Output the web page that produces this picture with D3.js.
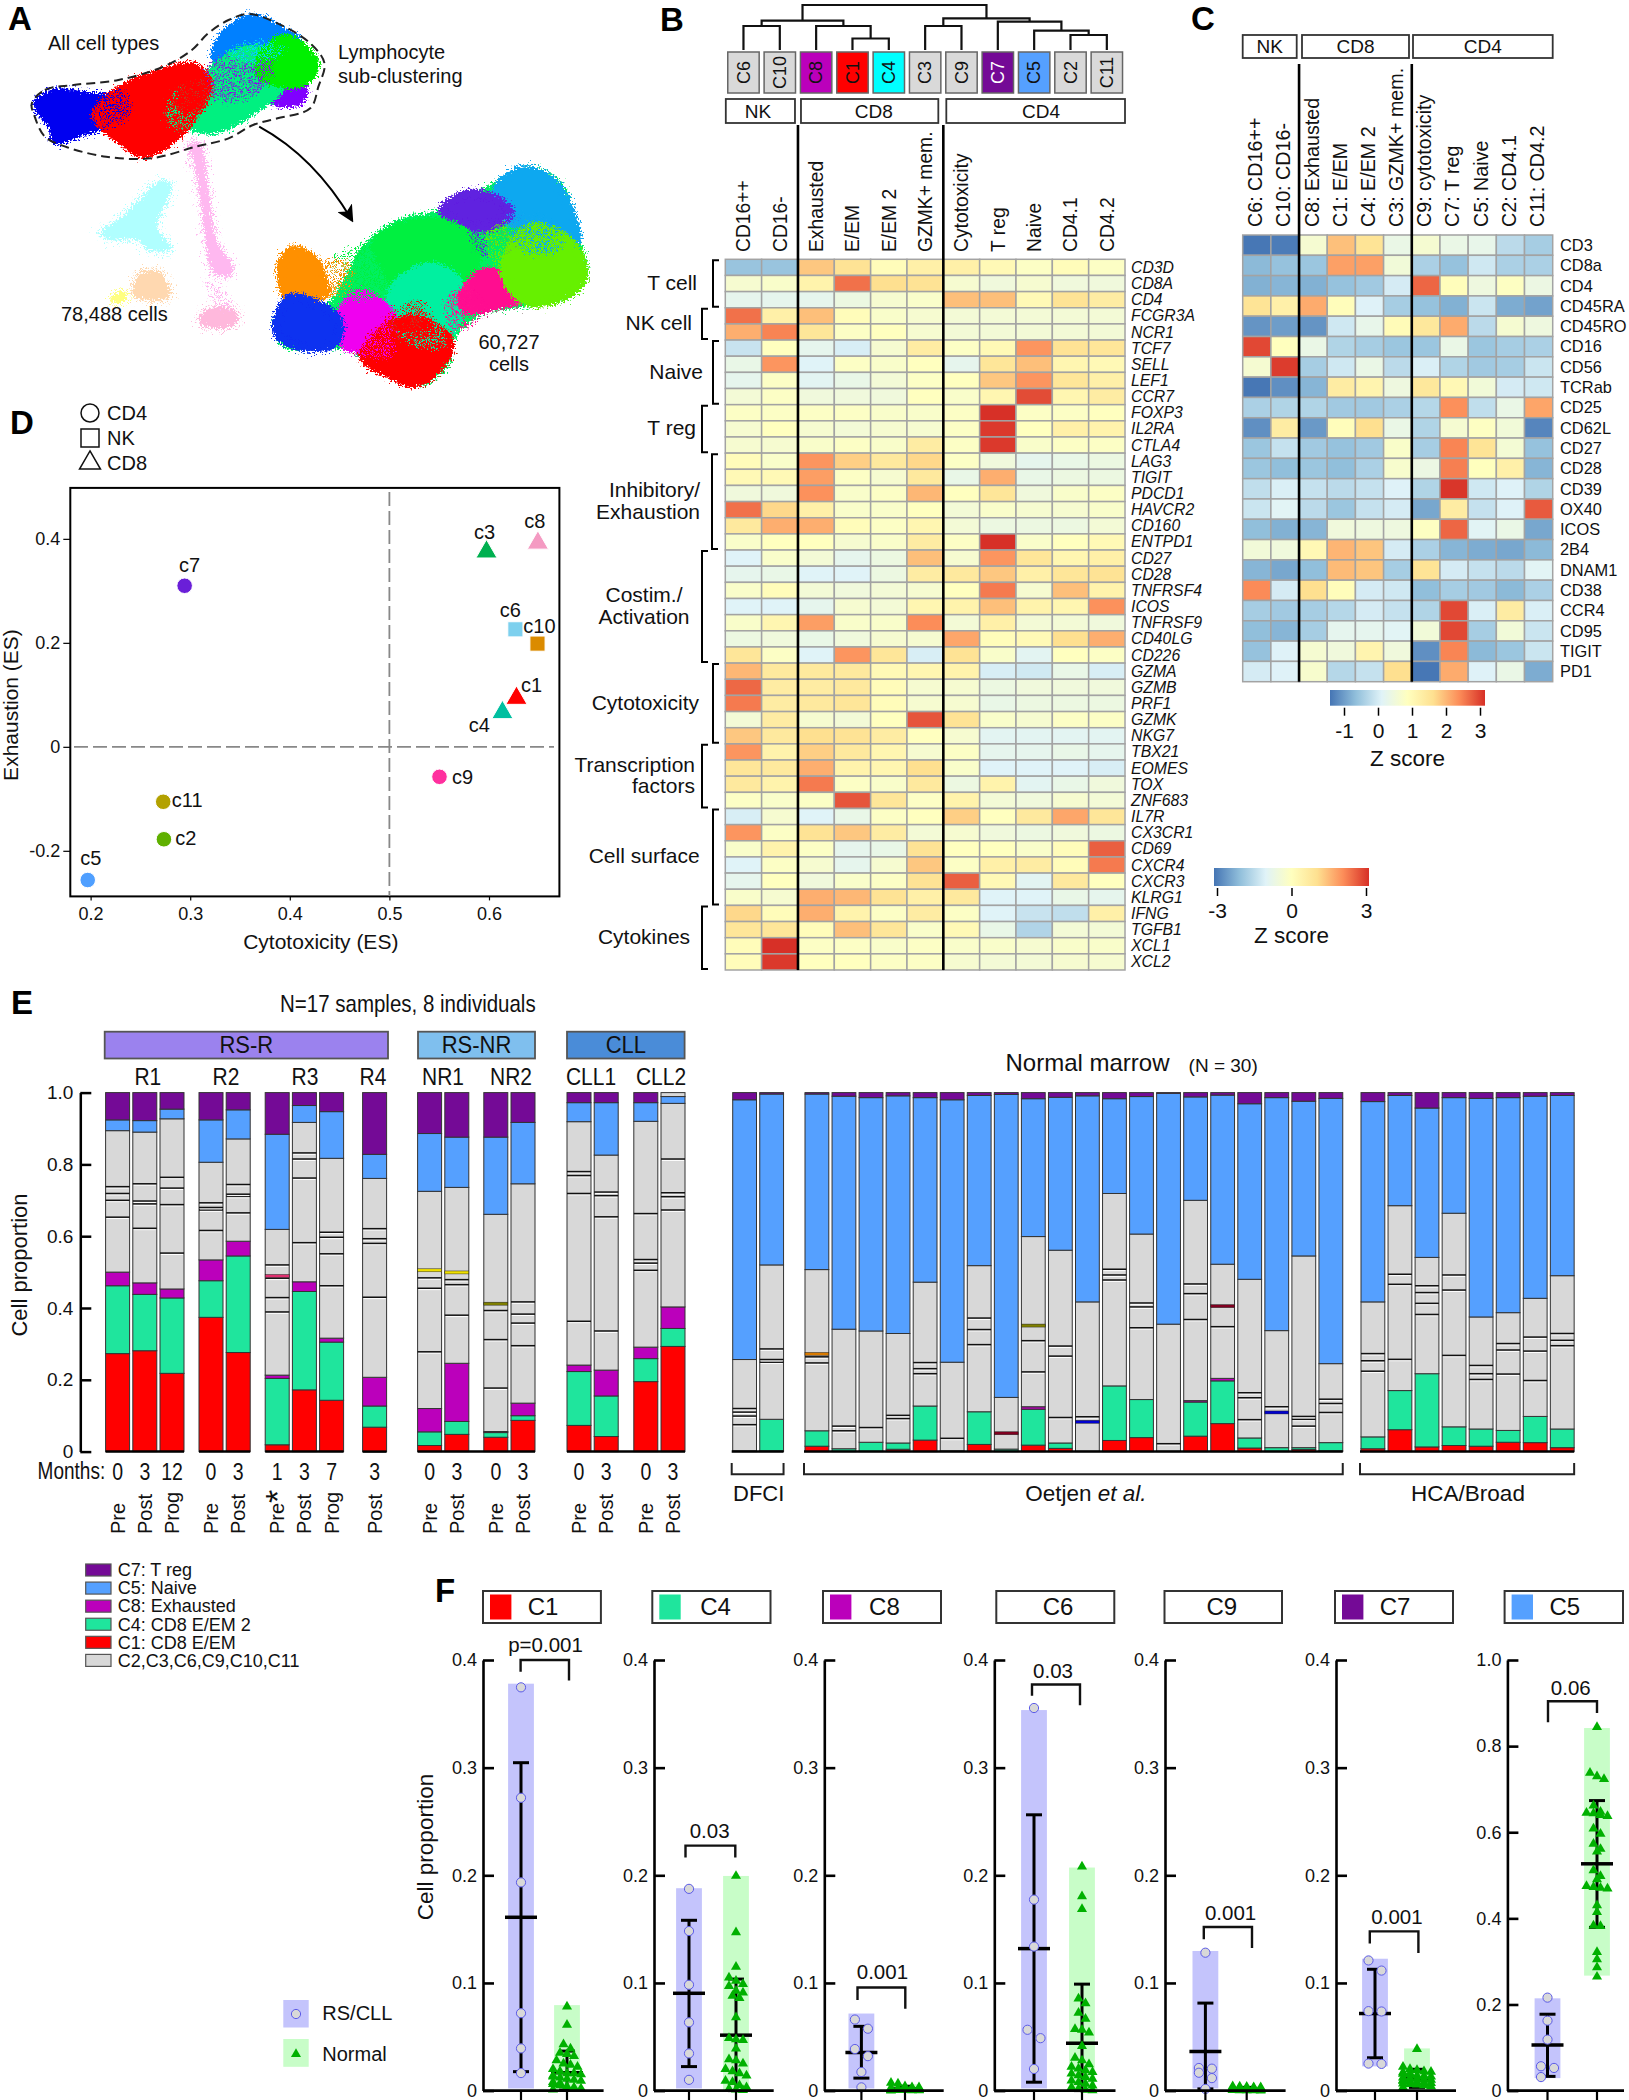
<!DOCTYPE html>
<html>
<head>
<meta charset="utf-8">
<script src="https://cdn.jsdelivr.net/npm/d3@7"></script>
<style>
  body { margin: 0; background: #fff; }
  svg text { font-family: "Liberation Sans", Arial, sans-serif; fill: #111; }
</style>
</head>
<body>
<svg id="fig" width="1629" height="2100" viewBox="0 0 1629 2100"></svg>
<script>
// ---------- panel A: embedding outlines, in embedding units ----------
const umapPale = [
  ['#b0ffff', [[245,700],[300,650],[400,540],[420,560],[385,680],[420,745],[360,750],[340,720],[270,720]]],
  ['#ffb8f0', [[465,430],[490,430],[510,560],[530,720],[570,800],[560,830],[520,810],[500,680],[480,520]]],
  ['#ffb8dc', [[490,945],[530,920],[580,935],[580,970],[530,985],[490,970]]],
  ['#ffd8b0', [[325,880],[345,820],[390,815],[415,870],[410,895],[340,895]]],
  ['#ffff80', [[270,900],[290,875],[315,885],[290,910]]]
];
const umapCores = [
  ['#0000f0', [[93,310],[130,280],[200,285],[290,310],[260,370],[190,400],[135,420],[130,380],[100,335]]],
  ['#0080ff', [[535,130],[590,65],[630,55],[690,95],[730,125],[680,160],[600,190],[530,180]]],
  ['#8000ff', [[640,250],[720,240],[745,270],[735,300],[690,310],[650,290]]],
  ['#00f080', [[460,300],[510,220],[600,150],[680,170],[690,260],[620,330],[560,375],[500,390],[450,360]]],
  ['#00f000', [[640,170],[700,115],[765,170],[772,200],[745,245],[690,250],[640,225]]],
  ['#ff0000', [[235,340],[300,265],[380,225],[475,200],[510,250],[490,320],[430,410],[350,462],[300,425],[258,385]]],
  ['#00f060', [[700,1030],[680,960],[800,930],[900,740],[980,670],[1090,640],[1200,570],[1290,510],[1370,560],[1410,720],[1430,830],[1380,890],[1180,930],[1110,1000],[1090,1090],[1020,1150],[940,1110],[860,1040]]],
  ['#ff9000', [[690,790],[720,750],[770,780],[790,840],[800,880],[750,890],[700,880]]],
  ['#10a8f0', [[1220,560],[1280,510],[1350,540],[1400,640],[1410,730],[1320,680],[1240,660],[1210,600]]],
  ['#6020e0', [[1085,630],[1150,580],[1220,600],[1250,640],[1200,680],[1120,665]]],
  ['#00f040', [[920,730],[980,680],[1090,670],[1170,740],[1140,860],[1070,950],[990,950],[960,840],[930,770]]],
  ['#00f0a0', [[960,870],[1060,800],[1130,860],[1100,1000],[1030,970],[970,950]]],
  ['#ff1090', [[1130,900],[1180,820],[1240,830],[1290,890],[1220,915],[1150,930]]],
  ['#66f000', [[1240,770],[1300,680],[1400,730],[1430,830],[1380,890],[1290,905],[1240,840]]],
  ['#f000f0', [[830,960],[880,880],[950,930],[960,970],[900,1040],[850,1040]]],
  ['#1030f0', [[680,960],[710,895],[790,920],[830,960],[820,1030],[720,1035],[680,1000]]],
  ['#ff0000', [[890,1070],[950,980],[1030,960],[1100,1020],[1090,1080],[1020,1150],[950,1120]]]
];
const umapSpeckles = [
  ['#7a20e0', [[510,200],[600,150],[670,190],[650,260],[560,310],[490,280]]],
  ['#00f080', [[420,280],[490,240],[530,330],[470,390],[410,370]]],
  ['#ff0000', [[440,250],[500,220],[520,300],[450,340]]],
  ['#0000f0', [[230,310],[300,270],[320,340],[250,380]]],
  ['#00d8f0', [[560,160],[640,120],[700,150],[620,190]]],
  ['#6020e0', [[1150,680],[1260,640],[1290,720],[1190,770]]],
  ['#66f000', [[1190,700],[1280,660],[1300,760],[1220,800]]],
  ['#00f040', [[800,800],[900,730],[960,860],[870,900]]],
  ['#ff9000', [[770,790],[860,790],[850,880],[780,880]]],
  ['#00f0a0', [[950,960],[1060,940],[1090,1040],[1000,1030]]],
  ['#ff0000', [[940,960],[1030,900],[1060,980],[980,1000]]],
  ['#ff1090', [[1090,900],[1150,860],[1190,930],[1120,1000]]],
  ['#f000f0', [[860,1000],[960,980],[960,1070],[890,1070]]],
  ['#10a8f0', [[1240,650],[1330,640],[1380,740],[1280,760]]],
  ['#ffb8f0', [[500,840],[540,860],[570,930],[540,930]]]
];
const gateOutline = [[78,310],[110,270],[180,255],[290,240],[400,200],[470,150],[510,100],[560,60],[610,42],[680,70],[760,130],[795,190],[780,260],[760,325],[680,355],[620,375],[560,415],[480,440],[370,475],[260,470],[160,440],[110,410],[85,350]];

// ---------- panel B: gene z scores ----------
const bClusters = ['C6','C10','C8','C1','C4','C3','C9','C7','C5','C2','C11'];
const bColumns = ['CD16++','CD16-','Exhausted','E/EM','E/EM 2','GZMK+ mem.','Cytotoxicity','T reg','Naive','CD4.1','CD4.2'];
const bGenes = ['CD3D','CD8A','CD4','FCGR3A','NCR1','TCF7','SELL','LEF1','CCR7','FOXP3','IL2RA','CTLA4','LAG3','TIGIT','PDCD1','HAVCR2','CD160','ENTPD1','CD27','CD28','TNFRSF4','ICOS','TNFRSF9','CD40LG','CD226','GZMA','GZMB','PRF1','GZMK','NKG7','TBX21','EOMES','TOX','ZNF683','IL7R','CX3CR1','CD69','CXCR4','CXCR3','KLRG1','IFNG','TGFB1','XCL1','XCL2'];
const bValues = [
  [-1.9,-1.9,1.3,.9,.1,.5,.5,.2,-.1,.1,-.1],
  [-.3,-.2,.4,2.3,1,.9,-.3,-.5,-.3,-.5,-.5],
  [-.8,-.8,-.8,-.6,-.3,-.2,1.4,1.4,.2,.9,.6],
  [2.3,.5,1.4,.1,-.2,-.3,-.4,-.4,-.4,-.4,-.4],
  [1.6,2.1,.8,-.1,0,-.3,-.4,-.4,-.4,-.4,-.4],
  [-1.3,0,-.8,-1.1,-.3,.6,-.1,.2,1.9,.9,.8],
  [-.7,1.9,-1,-.1,-.2,0,-.8,.8,1.4,.3,.2],
  [-.8,-.1,-.9,-.7,-.4,-.1,0,1.3,1.9,.8,.5],
  [-.4,-.1,-.5,-.5,-.5,0,-.2,.3,2.7,.3,.6],
  [-.1,-.1,-.1,-.1,-.2,-.2,-.1,3,-.1,-.1,0],
  [-.3,0,-.3,-.4,-.3,-.3,-.1,2.9,0,.5,.4],
  [-.3,-.3,-.2,-.1,-.2,.6,-.1,2.9,-.2,-.1,-.1],
  [.1,-.2,1.9,1.2,.7,1.1,-.1,-.5,-.8,-.7,-.6],
  [.2,.2,1.8,-.1,-.3,.7,-.7,1.6,-.7,-.6,-.6],
  [-.5,-.5,1.95,-.2,-.1,1.5,0,.8,-.5,-.2,-.1],
  [2.3,1.1,.5,-.2,-.2,0,-.4,-.2,-.3,-.3,-.2],
  [.7,1.6,1.6,.1,-.1,.3,-.4,-.6,-.6,-.6,-.4],
  [-.2,0,0,-.3,-.2,.6,-.1,3,-.2,0,.2],
  [-1,-.2,-.4,-.8,-.6,1.4,-.3,1.9,.8,.3,.5],
  [-.8,-.7,-1,-1,-.6,.6,.7,1.3,.5,.8,.9],
  [-.2,.1,-.4,-.5,-.4,-.3,0,2.2,-.3,1.4,.4],
  [-1,-1,-.8,-.3,-.4,.3,.4,1.4,.4,.3,1.95],
  [-.2,.3,1.8,-.2,-.2,2,-.4,.5,-.4,-.4,-.5],
  [-.6,-.5,-.7,-.5,-.3,-.3,1.7,.1,.2,1,1.6],
  [.8,-.1,-1,1.9,.8,-1.1,.9,-.2,-.9,0,-.1],
  [1.5,.7,.7,.7,.2,.3,.4,-1.1,-1.2,-.7,-1.1],
  [2.4,.6,.6,.7,.1,-.3,-.3,-.6,-.5,-.5,-.5],
  [2.2,.6,.7,.8,.1,-.3,-.3,-.7,-.6,-.6,-.6],
  [-.4,.6,-.3,-.4,0,2.6,.9,-.2,-.3,-.1,-.1],
  [1.3,.7,1,.9,.6,0,-.3,-.9,-.9,-.9,-.9],
  [1.9,.4,1.2,.7,.3,-.3,-.1,-.8,-.8,-.7,-.8],
  [.8,.7,1.6,.4,.3,1,-.2,-1,-1,-1,-1.1],
  [.7,.4,2.2,-.1,-.2,.7,-.6,.4,-.9,-.7,-.5],
  [-.1,-.2,-.1,2.6,.8,-.1,.4,-.4,-.5,-.3,-.4],
  [-1.1,-.3,-1,-.7,-.1,0,1.2,0,.7,1.7,.8],
  [1.9,-.1,.9,1.3,.6,-.4,-.3,-.5,-.6,-.5,-.6],
  [-.2,.4,-.1,-.8,-.7,.9,0,0,-.2,.1,2.5],
  [-1,-.1,-.3,-.8,-.3,1.3,-.1,.5,.6,.1,2.2],
  [-.8,0,-.5,-.2,-.1,.9,2.5,.2,-.9,.7,0],
  [-.2,-.3,1.6,1.5,.9,.5,.7,-1,-1,-.7,-.8],
  [1.1,.1,1.6,.4,-.1,.6,-.1,-1,-1.3,-1.4,.5],
  [.8,.8,.1,1.4,.8,-.2,.2,-.7,-1.6,-.4,-.4],
  [.1,3,-.1,-.1,-.2,-.1,-.2,-.2,-.3,-.2,-.2],
  [.1,2.9,0,0,-.1,-.1,-.3,-.4,-.4,-.3,-.3]
];
// [child, child, merge height], ids above 10 are earlier merges
const dendroMerges = [[0,1,24],[3,4,11.5],[2,12,24],[11,13,29.4],[5,6,24],[9,10,15],[8,16,19.4],[7,17,28.4],[15,18,31.7],[14,19,45]];
const bLineages = [['NK',0,2],['CD8',2,4],['CD4',6,5]];
const geneGroups = [['T cell',0,3],['NK cell',3,2],['Naive',5,4],['T reg',9,3],['Inhibitory/\nExhaustion',12,6],['Costim./\nActivation',18,7],['Cytotoxicity',25,5],['Transcription\nfactors',30,4],['Cell surface',34,6],['Cytokines',40,4]];

// ---------- panel C: protein z scores ----------
const cColumns = ['C6: CD16++','C10: CD16-','C8: Exhausted','C1: E/EM','C4: E/EM 2','C3: GZMK+ mem.','C9: cytotoxicity','C7: T reg','C5: Naive','C2: CD4.1','C11: CD4.2'];
const cMarkers = ['CD3','CD8a','CD4','CD45RA','CD45RO','CD16','CD56','TCRab','CD25','CD62L','CD27','CD28','CD39','OX40','ICOS','2B4','DNAM1','CD38','CCR4','CD95','TIGIT','PD1'];
const cValues = [
  [-1.45,-1.4,.6,1.9,1.5,.3,.6,.3,.25,-.3,-.5],
  [-.75,-.65,-.6,2.2,2.2,.5,-.45,-.65,-.1,-.45,-.45],
  [-.85,-.8,-.85,-.65,-.55,-.05,2.7,.9,.4,.8,.35],
  [1.5,1.2,2.1,.9,.05,-.5,-.65,-.85,-.15,-.9,-1],
  [-1.15,-1.05,-1.15,-.1,.25,.95,1.4,2.1,-.3,.6,.4],
  [2.95,.85,.3,-.4,-.5,-.6,-.6,.3,-.6,-.5,-.45],
  [.6,3.05,-.5,-.1,.3,-.3,0,-.4,-.55,-.5,-.15],
  [-1.45,-1.2,-.8,1.3,1.1,.4,1.4,1,.5,-.05,-.1],
  [-.45,-.4,-.4,-.55,-.55,-.45,-.35,2.35,-.25,.3,2.15],
  [-1.2,1.3,-1.1,.9,1.6,.3,-.4,.6,.8,.5,-1.3],
  [-.6,-.2,-.55,-.65,-.55,.7,-.5,2.45,1.5,.55,-.65],
  [-.6,-.7,-.6,-.7,-.45,.65,.35,2.5,.85,1.2,-.8],
  [-.25,0,-.2,-.3,-.2,.05,-.4,3.1,-.1,.05,-.4],
  [-.15,.1,-.3,-.6,-.2,-.05,-.95,1.3,-.2,.05,2.8],
  [-.7,-.85,-.8,.45,.4,.4,.8,2.7,.1,.3,-.95],
  [.5,.45,1,2,1.85,-.05,-.45,-.8,-.9,-.95,-.75],
  [-.8,-.95,-.7,1.95,1.85,-.5,1.5,-.05,-.2,-.3,.1],
  [2.4,-.05,1.6,.9,-.05,-.1,-.7,-.5,-.55,-.75,-.45],
  [-.5,-.55,-.5,-.35,-.05,-.2,-.4,2.95,0,1.3,0],
  [-.7,-.8,-.5,.2,.2,.1,.5,2.95,-.5,.5,-.15],
  [-.65,.05,.6,.45,1.1,.45,-1.2,2.45,-.75,-.6,-.15],
  [-.05,.05,.65,-.35,-.2,1.6,-1.45,2.1,.05,.3,-.9]
];

// ---------- panel D: enrichment scores ----------
const dNames = ['c7','c3','c8','c6','c10','c1','c4','c9','c11','c2','c5'];
const dCytotoxicity = [.2944,.5975,.6491,.6265,.6487,.6276,.6135,.5503,.2729,.2736,.1971];
const dExhaustion = [.3098,.375,.392,.226,.1985,.0935,.066,-.0577,-.1057,-.1778,-.2562];
const dLineage = ['CD4','CD8','CD8','NK','NK','CD8','CD8','CD4','CD4','CD4','CD4'];
const dColors = ['#6a1fd8','#00b050','#f49ac2','#7dd0ee','#db8b00','#ff0000','#00bfa0','#ff2f9e','#b3a100','#5fb000','#4f9fff'];

// ---------- panel E: cumulative tops of each stack ----------
const rsIndividuals = ['R1','R2','R3','R4','NR1','NR2','CLL1','CLL2'];
const rsSizes = [3,2,3,1,2,2,2,2];
const rsMonths = ['0','3','12','0','3','1','3','7','3','0','3','0','3','0','3','0','3'];
const rsStatus = ['Pre','Post','Prog','Pre','Post','Pre*','Post','Prog','Post','Pre','Post','Pre','Post','Pre','Post','Pre','Post'];
const rsC1 = [.273,.281,.218,.374,.276,.019,.172,.143,.068,.017,.048,.04,.087,.073,.042,.195,.293];
const rsC4 = [.462,.438,.428,.476,.545,.204,.446,.305,.127,.055,.084,.053,.1,.223,.155,.259,.343];
const rsC8 = [.5,.47,.453,.534,.586,.213,.473,.316,.207,.12,.246,.056,.135,.241,.227,.291,.403];
const rsGray = [.894,.89,.927,.806,.871,.619,.917,.817,.761,.725,.736,.661,.746,.919,.826,.92,.97];
const rsC5 = [.924,.922,.954,.924,.952,.884,.964,.947,.828,.886,.876,.876,.917,.972,.972,.972,.989];
const rsLines = [
  [.653,.7,.719,.738],[.622,.69,.698,.746],[.553,.688,.734,.764],[.616,.673,.68,.693],[.665,.711,.717,.744],
  [.389,.429,.483,.52],[.582,.762,.815,.832],[.462,.551,.597,.611],[.43,.58,.593,.621],[.278,.455,.484,.505],
  [.38,.465,.479,.499],[.177,.312,.393,.412],[.295,.358,.383,.417],[.363,.719,.769,.78],[.336,.654,.713,.723],
  [.505,.525,.535,.663],[.673,.71,.721,.815]
];
const rsThin = [[5,.489,'#e03070'],[9,.505,'#f0e000'],[10,.499,'#f0e000'],[11,.412,'#808000']];

const nmC1 = [.002,.002,.015,.001,.001,.0065,.032,.002,.02,.001,.018,.009,.001,.031,.039,.001,.043,.078,.01,.001,.006,.002,.008,.061,.013,.017,.015,.026,.025,.011];
const nmC4 = [.002,.09,.058,.008,.026,.024,.127,.002,.111,.007,.118,.024,.001,.183,.145,.001,.138,.197,.038,.011,.011,.025,.041,.17,.217,.069,.063,.059,.098,.063];
const nmC8 = [.002,.09,.058,.008,.026,.024,.127,.002,.111,.007,.125,.024,.001,.183,.145,.001,.142,.204,.038,.011,.011,.025,.041,.17,.217,.069,.063,.059,.098,.063];
const nmGray = [.2565,.52,.507,.341,.336,.329,.472,.249,.518,.151,.599,.561,.417,.719,.606,.355,.7,.522,.48,.337,.545,.245,.417,.685,.541,.664,.375,.387,.427,.49];
const nmC5 = [.98,.996,.996,.99,.986,.991,.986,.98,.992,.995,.983,.987,.991,.983,.989,.998,.988,.993,.969,.986,.976,.984,.975,.992,.957,.986,.984,.986,.99,.992];
const nmLines = [
  [.075,.099,.11,.12],[.249,.2565,.286],[.247,.264,.272],[.058,.071],[.067],[.092,.101],[.217,.231,.248],[.037],
  [.298,.34,.372],[.051],[.222,.309,.351],[.095,.266,.294],[.083,.097],[.478,.492,.508],[.345,.403,.414],[.022],
  [.368,.44,.467],[.348,.405],[.089,.15,.164],[.109,.125],[.071,.09,.098],[.109,.134,.146],[.224,.253,.273],
  [.257,.466,.494],[.382,.413,.443,.462],[.268,.45,.492],[.201,.217,.24],[.216,.283,.301],[.198,.28,.319],[.295,.31,.329]
];
const nmThin = [[2,.272,'#d97a00'],[9,.051,'#800020'],[10,.351,'#808000'],[12,.083,'#0000d0'],[17,.405,'#800020'],[19,.109,'#0000d0']];
const cohorts = [['DFCI',2],['Oetjen',20],['HCA/Broad',8]];
const stackColors = ['#ff0000','#1fe59d','#bb00bb','#d8d8d8','#55a0ff','#740a96'];
const stackLegend = [['C7: T reg','#740a96'],['C5: Naive','#55a0ff'],['C8: Exhausted','#bb00bb'],['C4: CD8 E/EM 2','#1fe59d'],['C1: CD8 E/EM','#ff0000'],['C2,C3,C6,C9,C10,C11','#d8d8d8']];

// ---------- panel F: per-cluster proportions, RS/CLL then normal ----------
const fC1Rs = [.3746,.272,.1934,.0719,.0392,.0163];
const fC1Nm = [.078,.061,.043,.039,.035,.034,.032,.028,.025,.024,.022,.02,.018,.016,.016,.015,.014,.013,.012,.011,.01,.009,.008,.007,.006,.005,.004,.003,.002,.001];
const fC4Rs = [.1874,.1482,.0983,.0634,.0345,.01];
const fC4Nm = [.1994,.147,.115,.105,.102,.099,.097,.0926,.091,.088,.086,.068,.0487,.0477,.047,.039,.029,.028,.025,.02,.018,.016,.014,.009,.008,.005,.003,.0016,.001,.0005];
const fC8Rs = [.066,.0575,.0386,.032,.0173,.003];
const fC8Nm = [.0072,.0066,.004,.003,.003,.0025,.002,.002,.002,.002,.0015,.0015,.0015,.0015,.001,.001,.001,.001,.001,.001,.001,.0008,.0008,.0006,.0006,.0005,.0004,.0003,.0002,.0001];
const fC6Rs = [.3554,.1774,.1338,.0565,.0487,.0201];
const fC6Nm = [.208,.1805,.1686,.0854,.081,.0722,.0666,.0571,.0565,.054,.0414,.0305,.028,.0245,.022,.0204,.0188,.0173,.0157,.0141,.0126,.011,.0094,.0078,.0063,.0047,.0031,.0016,.0006,.0003];
const fC9Rs = [.1281,.021,.0204,.0166,.0116,.0016];
const fC9Nm = [.004,.0038,.0035,.003,.003,.0028,.0026,.0025,.0023,.002,.002,.002,.0018,.0016,.0015,.0014,.0012,.001,.001,.0009,.0008,.0007,.0006,.0005,.0005,.0004,.0003,.0002,.0002,.0001];
const fC7Rs = [.1209,.1115,.0738,.0735,.0251,.0248];
const fC7Nm = [.0385,.022,.02,.019,.018,.0175,.017,.016,.0155,.015,.014,.0135,.013,.012,.0115,.011,.0105,.01,.0095,.009,.0085,.008,.0075,.007,.0065,.006,.0055,.005,.004,.003];
const fC5Rs = [.2159,.1625,.1185,.0565,.0526,.0314];
const fC5Nm = [.844,.738,.73,.7237,.6617,.6476,.645,.6437,.64,.6374,.6083,.5965,.573,.5612,.555,.5118,.4984,.4906,.4749,.4725,.471,.4694,.4301,.4144,.383,.3822,.3218,.3046,.2865,.2645];
const fNames = ['C1','C4','C8','C6','C9','C7','C5'];
const fSwatches = ['#ff0000','#1fe59d','#bb00bb',null,null,'#740a96','#55a0ff'];
const fRs = [fC1Rs,fC4Rs,fC8Rs,fC6Rs,fC9Rs,fC7Rs,fC5Rs];
const fNm = [fC1Nm,fC4Nm,fC8Nm,fC6Nm,fC9Nm,fC7Nm,fC5Nm];
// [mean, upper, lower, band low, band high]
const fRsStats = [[.161,.3046,.0176,.002,.378],[.0904,.1582,.0223,.002,.188],[.0355,.0597,.0116,.002,.0716],[.1319,.2562,.0078,.002,.3535],[.0364,.0813,.0016,.002,.1297],[.0716,.1127,.0305,.0225,.1225],[.106,.1774,.033,.029,.2143]];
const fNmStats = [[.0166,.0367,.0005,0,.0794],[.0515,.1036,0,0,.1994],[.0015,.004,0,0,.006],[.044,.0989,0,0,.2072],[.001,.003,0,0,.004],[.0113,.0198,.003,.001,.0392],[.5267,.6735,.3791,.267,.842]];
const fPvalues = ['p=0.001','0.03','0.001','0.03','0.001','0.001','0.06'];
// [top, left drop, right drop] of each significance bracket
const fBrackets = [[.4,.389,.381],[.2276,.2166,.2166],[.0958,.0841,.076],[.3773,.3667,.358],[.152,.1407,.1325],[.1479,.1366,.1278],[.9042,.8556,.8768]];

// ---------- helpers ----------
const svg = d3.select('#fig');
const defs = svg.append('defs');

function put(parent, x, y, str, o = {}) {
  const n = parent.append('text')
    .attr('font-size', o.fs || 18)
    .attr('text-anchor', o.anchor || 'middle')
    .attr('dy', '.35em')
    .text(str);
  if (o.rot || o.sy) n.attr('transform', `translate(${x},${y}) scale(1,${o.sy || 1}) rotate(${o.rot || 0})`);
  else n.attr('x', x).attr('y', y);
  if (o.italic) n.attr('font-style', 'italic');
  if (o.weight) n.attr('font-weight', o.weight);
  if (o.fill) n.style('fill', o.fill);
  return n;
}

function styleAxis(g, width, fs) {
  g.selectAll('path,line').attr('stroke', '#000').attr('stroke-width', width);
  g.selectAll('text').attr('font-size', fs).style('fill', '#111');
  return g;
}

const tickText = d => d === 0 ? '0' : d.toFixed(1);

// panel letters
[['A',8,30],['B',660,31],['C',1191,30],['D',10,434],['E',11,1014],['F',435,1602]].forEach(([s, x, y]) => {
  svg.append('text').attr('x', x).attr('y', y).attr('font-size', 33).attr('font-weight', 'bold').style('fill', '#000').text(s);
});

// ---------- A ----------
function grainFilter(id, scale, holes) {
  const f = defs.append('filter').attr('id', id).attr('x', '-30%').attr('y', '-30%').attr('width', '160%').attr('height', '160%');
  f.append('feTurbulence').attr('type', 'fractalNoise').attr('baseFrequency', 0.55).attr('numOctaves', 2).attr('seed', 3).attr('result', 'noise');
  let src = 'SourceGraphic';
  if (holes) {
    f.append('feColorMatrix').attr('in', 'noise').attr('type', 'matrix')
      .attr('values', '0 0 0 0 0  0 0 0 0 0  0 0 0 0 0  0 0 0 14 -7.4').attr('result', 'mask');
    f.append('feComposite').attr('in', 'SourceGraphic').attr('in2', 'mask').attr('operator', 'in').attr('result', 'cut');
    src = 'cut';
  }
  f.append('feDisplacementMap').attr('in', src).attr('in2', 'noise').attr('scale', scale)
    .attr('xChannelSelector', 'R').attr('yChannelSelector', 'G');
}
grainFilter('grain', 12, false);
grainFilter('haze', 24, true);
grainFilter('mix', 16, true);

const xUmap = d3.scaleLinear().domain([0, 1568]).range([0, 640]);
const yUmap = d3.scaleLinear().domain([0, 1260]).range([0, 420]);
const blobPath = d3.line().x(d => xUmap(d[0])).y(d => yUmap(d[1])).curve(d3.curveCatmullRomClosed.alpha(.5));
const gA = svg.append('g');
gA.selectAll('path.halo').data([...umapPale, ...umapCores]).join('path').attr('class', 'halo')
  .attr('d', d => blobPath(d[1])).attr('fill', d => d[0]).attr('stroke', d => d[0]).attr('stroke-width', 7).attr('filter', 'url(#haze)');
gA.selectAll('path.pale').data(umapPale).join('path').attr('class', 'pale')
  .attr('d', d => blobPath(d[1])).attr('fill', d => d[0]).attr('filter', 'url(#grain)');
gA.selectAll('path.core').data(umapCores).join('path').attr('class', 'core')
  .attr('d', d => blobPath(d[1])).attr('fill', d => d[0]).attr('stroke', d => d[0]).attr('stroke-width', 9).attr('filter', 'url(#grain)');
gA.selectAll('path.mix').data(umapSpeckles).join('path').attr('class', 'mix')
  .attr('d', d => blobPath(d[1])).attr('fill', d => d[0]).attr('filter', 'url(#mix)');
gA.append('path').attr('d', blobPath(gateOutline)).attr('fill', 'none').attr('stroke', '#222').attr('stroke-width', 2).attr('stroke-dasharray', '9 5');

defs.append('marker').attr('id', 'arrow').attr('viewBox', '0 0 12 12').attr('refX', 10).attr('refY', 6)
  .attr('markerWidth', 17).attr('markerHeight', 17).attr('markerUnits', 'userSpaceOnUse').attr('orient', 'auto')
  .append('path').attr('d', 'M0,0 L12,6 L0,12 L3,6 Z').attr('fill', '#000');
gA.append('path')
  .attr('d', `M${xUmap(635)},${yUmap(380)} Q${xUmap(770)},${yUmap(470)} ${xUmap(862)},${yUmap(660)}`)
  .attr('fill', 'none').attr('stroke', '#000').attr('stroke-width', 2).attr('marker-end', 'url(#arrow)');

put(gA, 48, 43, 'All cell types', { fs: 20, anchor: 'start' });
put(gA, 338, 52, 'Lymphocyte', { fs: 20, anchor: 'start' });
put(gA, 338, 76, 'sub-clustering', { fs: 20, anchor: 'start' });
put(gA, 61, 314, '78,488 cells', { fs: 20, anchor: 'start' });
put(gA, 509, 342, '60,727', { fs: 20 });
put(gA, 509, 364, 'cells', { fs: 20 });

// ---------- heatmap palette ----------
const rdYlBu = ['#4575b4','#91bfdb','#e0f3f8','#ffffbf','#fee090','#fc8d59','#d73027'];
const colorB = d3.scaleLinear().domain([-3,-2,-1,0,1,2,3]).range(rdYlBu).clamp(true);
const colorC = d3.scaleLinear().domain([-1.47,-.7,.06,.84,1.6,2.38,3.15]).range(rdYlBu).clamp(true);

function heatmap(g, rows, x, y, color) {
  g.selectAll('g.hrow').data(rows).join('g').attr('class', 'hrow')
    .attr('transform', (d, i) => `translate(0,${y(i)})`)
    .selectAll('rect').data(d => d).join('rect')
    .attr('x', (d, j) => x(j)).attr('width', x.bandwidth()).attr('height', y.bandwidth())
    .attr('fill', d => color(d)).attr('stroke', '#a3a3a3').attr('stroke-width', 1.5);
}

function colorbar(id, color, stops, x0, x1, y0, h, tickScale, ticks, title, titleY) {
  const grad = defs.append('linearGradient').attr('id', id);
  stops.forEach((s, i) => grad.append('stop').attr('offset', i / (stops.length - 1)).attr('stop-color', color(s)));
  svg.append('rect').attr('x', x0).attr('y', y0).attr('width', x1 - x0).attr('height', h).attr('fill', `url(#${id})`);
  const ax = svg.append('g').attr('transform', `translate(0,${y0 + h + 2})`)
    .call(d3.axisBottom(tickScale).tickValues(ticks).tickSize(8).tickPadding(7).tickFormat(String));
  ax.select('.domain').remove();
  styleAxis(ax, 1.5, 21);
  put(svg, (x0 + x1) / 2, titleY, title, { fs: 22.5 });
}

// ---------- B ----------
const gB = svg.append('g');
const xB = d3.scaleBand().domain(d3.range(bColumns.length)).range([725.3, 1125]);
const yB = d3.scaleBand().domain(d3.range(bGenes.length)).range([259.3, 970]);
heatmap(gB, bValues, xB, yB, colorB);

const leafX = i => xB(i) + xB.bandwidth() / 2;
const yTree = d3.scaleLinear().domain([0, 45]).range([50, 5]);
const nodes = bClusters.map((c, i) => ({ x: leafX(i), h: 0 }));
dendroMerges.forEach(([a, b, h]) => {
  const l = nodes[a], r = nodes[b];
  gB.append('path').attr('d', `M${l.x},${yTree(l.h)} V${yTree(h)} H${r.x} V${yTree(r.h)}`)
    .attr('fill', 'none').attr('stroke', '#111').attr('stroke-width', 2.2);
  nodes.push({ x: (l.x + r.x) / 2, h });
});

const boxFill = { C8: '#bb00bb', C1: '#ff0000', C4: '#00ffff', C7: '#740a96', C5: '#55a0ff' };
const boxes = gB.selectAll('g.clu').data(bClusters).join('g').attr('class', 'clu');
boxes.append('rect').attr('x', (d, i) => leafX(i) - 15.7).attr('y', 52).attr('width', 31.4).attr('height', 41)
  .attr('fill', d => boxFill[d] || '#d9d9d9').attr('stroke', '#666').attr('stroke-width', 1.5);
boxes.each(function (d, i) {
  put(d3.select(this), leafX(i), 72.5, d, { fs: 18, rot: -90, fill: d === 'C7' ? '#fff' : '#111' });
});

function lineageBox(g, x0, x1, y0, y1, name, fs, labelX) {
  g.append('rect').attr('x', x0).attr('y', y0).attr('width', x1 - x0).attr('height', y1 - y0)
    .attr('fill', '#fff').attr('stroke', '#333').attr('stroke-width', 1.8);
  put(g, labelX || (x0 + x1) / 2, (y0 + y1) / 2, name, { fs });
}
const bLineageLabelX = [758, 873.8, 1041];
bLineages.forEach(([name, start, n], i) => {
  const x0 = xB(start) + (name === 'NK' ? .5 : 3);
  const x1 = xB(start) + n * xB.bandwidth() - (name === 'CD8' ? 5 : (name === 'NK' ? 3 : 0));
  lineageBox(gB, x0, x1, 99, 123, name, 19, bLineageLabelX[i]);
});

bColumns.forEach((c, i) => put(gB, leafX(i), 252, c, { fs: 19.3, rot: -90, anchor: 'start' }));
bGenes.forEach((c, i) => put(gB, 1131, yB(i) + yB.bandwidth() / 2, c, { fs: 15.8, anchor: 'start', italic: true }));
[2, 6].forEach(i => gB.append('line').attr('x1', xB(i)).attr('x2', xB(i)).attr('y1', 125).attr('y2', 970).attr('stroke', '#000').attr('stroke-width', 2.6));

// bracket x stays in this layout list, one entry per gene group
const bracketX = [713,702,713,702,712,702,713,702,713,702];
const labelRight = [697,692,703,696,700,null,699,695,699.6,null];
geneGroups.forEach(([name, start, n], i) => {
  const x = bracketX[i], y0 = yB(start) + 1, y1 = yB(start) + n * yB.bandwidth() - 1;
  gB.append('path').attr('d', `M${x + 6},${y0} H${x} V${y1} H${x + 6}`).attr('fill', 'none').attr('stroke', '#000').attr('stroke-width', 2);
  const lines = name.split('\n');
  const yc = (y0 + y1) / 2;
  lines.forEach((s, k) => {
    const dy = (k - (lines.length - 1) / 2) * 21.5 - 1;
    if (labelRight[i]) put(gB, labelRight[i], yc + dy, s, { fs: 21, anchor: 'end' });
    else put(gB, 644, yc + dy, s, { fs: 21 });
  });
});

const zTicksB = d3.scaleLinear().domain([-3, 3]).range([1217, 1366]);
colorbar('barB', colorB, [-3,-2,-1,0,1,2,3], 1214, 1369, 868, 18, zTicksB, [-3,0,3], 'Z score', 935);

// ---------- C ----------
const gC = svg.append('g');
const xC = d3.scaleBand().domain(d3.range(cColumns.length)).range([1242.7, 1552.7]);
const yC = d3.scaleBand().domain(d3.range(cMarkers.length)).range([235, 681.7]);
heatmap(gC, cValues, xC, yC, colorC);
cColumns.forEach((c, i) => put(gC, xC(i) + xC.bandwidth() / 2 - 1.5, 227, c, { fs: 19.7, rot: -90, anchor: 'start' }));
cMarkers.forEach((c, i) => put(gC, 1560, yC(i) + yC.bandwidth() / 2, c, { fs: 16.4, anchor: 'start' }));
lineageBox(gC, 1242.7, 1296.7, 35, 58, 'NK', 19);
lineageBox(gC, 1302, 1409, 35, 58, 'CD8', 19);
lineageBox(gC, 1413, 1552.7, 35, 58, 'CD4', 19);
[2, 6].forEach(i => gC.append('line').attr('x1', xC(i)).attr('x2', xC(i)).attr('y1', 64).attr('y2', 681.7).attr('stroke', '#000').attr('stroke-width', 2.6));
const zTicksC = d3.scaleLinear().domain([-1, 3]).range([1344, 1480]);
colorbar('barC', colorC, [-1.47,-.7,.06,.84,1.6,2.38,3.15], 1330, 1485, 690, 15.7, zTicksC, [-1,0,1,2,3], 'Z score', 758);

// ---------- D ----------
const gD = svg.append('g');
const xD = d3.scaleLinear().domain([.1796, .6707]).range([70.3, 559.4]);
const yD = d3.scaleLinear().domain([-.2877, .498]).range([896.4, 487.9]);
gD.append('rect').attr('x', 70.3).attr('y', 487.9).attr('width', 489.1).attr('height', 408.5).attr('fill', 'none').attr('stroke', '#000').attr('stroke-width', 2);
gD.append('line').attr('x1', xD(.5)).attr('x2', xD(.5)).attr('y1', 492).attr('y2', 896).attr('stroke', '#888').attr('stroke-width', 1.8).attr('stroke-dasharray', '14 5');
gD.append('line').attr('x1', 74).attr('x2', 554).attr('y1', yD(0)).attr('y2', yD(0)).attr('stroke', '#888').attr('stroke-width', 1.8).attr('stroke-dasharray', '14 5');
const dx = gD.append('g').attr('transform', 'translate(0,896.4)').call(d3.axisBottom(xD).tickValues([.2,.3,.4,.5,.6]).tickSize(4).tickPadding(7).tickFormat(d3.format('.1f')));
dx.select('.domain').remove();
styleAxis(dx, 1.2, 18);
const dy = gD.append('g').attr('transform', 'translate(70.3,0)').call(d3.axisLeft(yD).tickValues([-.2,0,.2,.4]).tickSize(7).tickPadding(3).tickFormat(tickText));
dy.select('.domain').remove();
styleAxis(dy, 1.2, 18);

const symbolFor = { CD4: d3.symbol().type(d3.symbolCircle).size(190), NK: d3.symbol().type(d3.symbolSquare).size(230), CD8: d3.symbol().type(d3.symbolTriangle).size(195) };
gD.selectAll('path.pt').data(dNames).join('path').attr('class', 'pt')
  .attr('transform', (d, i) => `translate(${xD(dCytotoxicity[i])},${yD(dExhaustion[i])})`)
  .attr('d', (d, i) => symbolFor[dLineage[i]]())
  .attr('fill', (d, i) => dColors[i]).attr('stroke', '#fff').attr('stroke-width', 1);
// label offsets from each point, same order as dNames
const dLabelDx = [5,-2,-3,-5,2,15,-23,23,24,22,3];
const dLabelDy = [-21,-20,-22,-19,-18,-13,12,0,-2,-1,-22];
dNames.forEach((n, i) => put(gD, xD(dCytotoxicity[i]) + dLabelDx[i], yD(dExhaustion[i]) + dLabelDy[i], n, { fs: 20 }));
put(gD, 320.8, 942, 'Cytotoxicity (ES)', { fs: 21 });
put(gD, 11, 705, 'Exhaustion (ES)', { fs: 21, rot: -90 });
const dLegend = [['CD4', d3.symbolCircle, 254, 413], ['NK', d3.symbolSquare, 324, 438], ['CD8', d3.symbolTriangle, 190, 463]];
dLegend.forEach(([name, sym, size, y]) => {
  gD.append('path').attr('transform', `translate(90,${y})`).attr('d', d3.symbol().type(sym).size(size)()).attr('fill', 'none').attr('stroke', '#111').attr('stroke-width', 1.5);
  put(gD, 107, y, name, { fs: 20, anchor: 'start' });
});

// ---------- E ----------
const gE = svg.append('g');
const yE = d3.scaleLinear().domain([0, 1]).range([1451.6, 1092.6]);

function drawStack(g, x, w, tops, lines, thin, topColor) {
  const lows = [0, ...tops.slice(0, -1)];
  tops.forEach((t, k) => {
    if (t - lows[k] <= 0) return;
    g.append('rect').attr('x', x).attr('width', w).attr('y', yE(t)).attr('height', yE(lows[k]) - yE(t))
      .attr('fill', k === 5 && topColor ? topColor : stackColors[k]).attr('stroke', '#333').attr('stroke-width', 1);
  });
  lines.forEach(v => {
    g.append('line').attr('x1', x + 1).attr('x2', x + w - 1).attr('y1', yE(v) + 1.4).attr('y2', yE(v) + 1.4).attr('stroke', '#fff').attr('stroke-width', 1);
    g.append('line').attr('x1', x).attr('x2', x + w).attr('y1', yE(v)).attr('y2', yE(v)).attr('stroke', '#111').attr('stroke-width', 1.5);
  });
  thin.forEach(([, v, c]) => {
    g.append('rect').attr('x', x).attr('width', w).attr('y', yE(v) - 1.5).attr('height', 3).attr('fill', c).attr('stroke', '#222').attr('stroke-width', .5);
  });
}

// left block: gaps between individuals, then bars
const rsGaps = [0,39,39,43,55,39,56,39.6];
const rsPitch = 27.2, rsWidth = 24;
const rsX = [];
let cursor = 105.6;
rsSizes.forEach((n, g) => {
  if (g > 0) cursor += rsGaps[g] - rsPitch;
  d3.range(n).forEach(() => { rsX.push(cursor); cursor += rsPitch; });
});
rsX.forEach((x, i) => {
  const tops = [rsC1[i], rsC4[i], rsC8[i], rsGray[i], rsC5[i], 1];
  drawStack(gE, x, rsWidth, tops, rsLines[i], rsThin.filter(t => t[0] === i), i === 16 ? '#d8d8d8' : null);
  put(gE, x + rsWidth / 2, 1471, rsMonths[i], { fs: 19.5, sy: 1.25 });
  const st = rsStatus[i];
  const lab = put(gE, x + rsWidth / 2, 1534, st.replace('*', ''), { fs: 20, rot: -90, anchor: 'start' });
  if (st.endsWith('*')) lab.append('tspan').attr('font-size', 34).attr('dy', 5).text('*');
});
const ya = gE.append('g').attr('transform', 'translate(80.3,0)').call(d3.axisLeft(yE).tickValues([0,.2,.4,.6,.8,1]).tickSize(-11).tickSizeOuter(0).tickPadding(7).tickFormat(tickText));
styleAxis(ya, 2.5, 19);
// thick baselines under each joined run of bars
[[0,2],[3,4],[5,7],[8,8],[9,12],[13,16]].forEach(([a, b]) => {
  gE.append('line').attr('x1', rsX[a]).attr('x2', rsX[b] + rsWidth).attr('y1', yE(0)).attr('y2', yE(0)).attr('stroke', '#000').attr('stroke-width', 2.5);
});
const rsLabelX = [147.8,226,305,373,443,511,591,661];
rsIndividuals.forEach((name, g) => put(gE, rsLabelX[g], 1076, name, { fs: 21, sy: 1.18 }));
[['RS-R',104.7,388,'#9b82ee'],['RS-NR',418,535,'#7fbfee'],['CLL',567,684.6,'#4a8cd8']].forEach(([name, x0, x1, fill]) => {
  gE.append('rect').attr('x', x0).attr('y', 1031.7).attr('width', x1 - x0).attr('height', 26.8).attr('fill', fill).attr('stroke', '#555').attr('stroke-width', 1.8);
  put(gE, (x0 + x1) / 2, 1045, name, { fs: 22, sy: 1.1 });
});
put(gE, 280, 1004, 'N=17 samples, 8 individuals', { fs: 20.5, anchor: 'start', sy: 1.15 });
put(gE, 37.6, 1471, 'Months:', { fs: 19, anchor: 'start', sy: 1.25 });
put(gE, 19, 1265, 'Cell proportion', { fs: 22, rot: -90 });

// right block: normal marrow
const nmStarts = [732.7, 805, 1361];
const nmPitch = 27.05, nmWidth = 23.8;
let nmIndex = 0;
cohorts.forEach(([name, n], c) => {
  d3.range(n).forEach(k => {
    const i = nmIndex + k;
    const x = nmStarts[c] + k * nmPitch;
    drawStack(gE, x, nmWidth, [nmC1[i], nmC4[i], nmC8[i], nmGray[i], nmC5[i], 1], nmLines[i], nmThin.filter(t => t[0] === i));
  });
  const x0 = nmStarts[c] - 1, x1 = nmStarts[c] + (n - 1) * nmPitch + nmWidth;
  gE.append('line').attr('x1', x0).attr('x2', x1).attr('y1', yE(0)).attr('y2', yE(0)).attr('stroke', '#000').attr('stroke-width', 2.5);
  gE.append('path').attr('d', `M${x0},1463 V1474.3 H${x1} V1463`).attr('fill', 'none').attr('stroke', '#222').attr('stroke-width', 2);
  nmIndex += n;
});
put(gE, 758.7, 1493, 'DFCI', { fs: 22 });
const oet = put(gE, 1085.8, 1493, 'Oetjen ', { fs: 22.5 });
oet.append('tspan').attr('font-style', 'italic').text('et al.');
put(gE, 1468, 1493, 'HCA/Broad', { fs: 22.5 });
put(gE, 1005.5, 1063, 'Normal marrow', { fs: 24, anchor: 'start' });
put(gE, 1188.6, 1065, '(N = 30)', { fs: 19, anchor: 'start' });

stackLegend.forEach(([name, fill], i) => {
  const y = 1570 + i * 18.08;
  gE.append('rect').attr('x', 85.7).attr('y', y - 6).attr('width', 25.3).attr('height', 12).attr('fill', fill).attr('stroke', '#555').attr('stroke-width', 1.2);
  put(gE, 117.7, y, name, { fs: 18, anchor: 'start' });
});

// ---------- F ----------
const gF = svg.append('g');
const rsColor = { band: '#c4c4fc', stroke: '#5b5be8', fill: '#d8d8d8' };
const nmColor = { band: '#c8fdc8', fill: '#00b000' };
const triPath = d3.symbol().type(d3.symbolTriangle).size(44)();
// axis x, first cat, second cat, baseline end, bracket left, bracket right, p label x, p label y, header x0, header x1, header label x
const fLayout = [
  [483,521,567,603.6,520.6,569,545.5,1645,483,600.9,543],
  [654,689,736,773.7,685.5,735.3,709.6,1831,652.3,770.5,715.5],
  [824.3,861.4,905,943.7,857.5,905.3,882.4,1972,823,941,884.4],
  [994.3,1034,1082,1115.5,1032,1080,1053,1671,996.3,1114.3,1058],
  [1165,1205.4,1246.7,1285.6,1203.8,1252,1230.6,1912.5,1164.5,1282,1221.8],
  [1336,1375,1417,1456,1369.8,1418.4,1397,1917,1335,1453,1395],
  [1507.4,1547.5,1597,1624,1548,1597,1570.8,1687.6,1504.6,1623,1564.8]
];

// bin values that would overlap and spread each bin sideways around the centre
function spread(values, y, binH, step, maxCols) {
  const sorted = values.slice().sort((a, b) => b - a);
  const out = [];
  let bin = [];
  const flush = () => {
    const cols = Math.min(bin.length, maxCols);
    bin.forEach((v, i) => out.push({ v, dx: ((i % cols) - (cols - 1) / 2) * step }));
    bin = [];
  };
  sorted.forEach(v => {
    if (bin.length && y(v) - y(bin[0]) > binH) flush();
    bin.push(v);
  });
  flush();
  return out;
}

function drawGroup(g, cx, y, stats, pts, isRs) {
  const [mean, up, low, bandLow, bandHigh] = stats;
  const c = isRs ? rsColor : nmColor;
  g.append('rect').attr('x', cx - 12.9).attr('width', 25.8).attr('y', y(bandHigh)).attr('height', y(bandLow) - y(bandHigh)).attr('fill', c.band);
  const ln = (x1, x2, y1, y2, w) => g.append('line').attr('x1', x1).attr('x2', x2).attr('y1', y1).attr('y2', y2).attr('stroke', '#000').attr('stroke-width', w);
  ln(cx, cx, y(up), y(low), 3);
  ln(cx - 8, cx + 8, y(up), y(up), 3);
  ln(cx - 8, cx + 8, y(low), y(low), 3);
  ln(cx - 16, cx + 16, y(mean), y(mean), 3.5);
  const placed = isRs ? spread(pts, y, 11, 13, 2) : spread(pts, y, 6.5, 7, 5);
  placed.forEach(p => {
    if (isRs) {
      g.append('circle').attr('cx', cx + p.dx).attr('cy', y(p.v)).attr('r', 4.6).attr('fill', c.fill).attr('stroke', c.stroke).attr('stroke-width', 1);
    } else {
      g.append('path').attr('transform', `translate(${cx + p.dx},${y(p.v)})`).attr('d', triPath).attr('fill', c.fill);
    }
  });
}

fNames.forEach((name, i) => {
  const [ax, c1, c2, end, bl, br, px, py, h0, h1, hx] = fLayout[i];
  const top = name === 'C5' ? 1 : .4;
  const y = d3.scaleLinear().domain([0, top]).range([2090.6, 1660]);
  const g = gF.append('g');

  g.append('rect').attr('x', h0).attr('y', 1591).attr('width', h1 - h0).attr('height', 32).attr('fill', '#fff').attr('stroke', '#333').attr('stroke-width', 2);
  if (fSwatches[i]) g.append('rect').attr('x', h0 + 7).attr('y', 1594.5).attr('width', 21.4).attr('height', 25).attr('fill', fSwatches[i]);
  put(g, hx, 1607, name, { fs: 24 });

  drawGroup(g, c1, y, fRsStats[i], fRs[i], true);
  drawGroup(g, c2, y, fNmStats[i], fNm[i], false);

  const ticks = name === 'C5' ? [0,.2,.4,.6,.8,1] : [0,.1,.2,.3,.4];
  const a = g.append('g').attr('transform', `translate(${ax},0)`).call(d3.axisLeft(y).tickValues(ticks).tickSize(-11).tickSizeOuter(0).tickPadding(6).tickFormat(tickText));
  styleAxis(a, 2.6, 18);
  g.append('line').attr('x1', ax).attr('x2', end).attr('y1', y(0)).attr('y2', y(0)).attr('stroke', '#000').attr('stroke-width', 2.6);
  [c1, c2].forEach(c => g.append('line').attr('x1', c).attr('x2', c).attr('y1', y(0)).attr('y2', 2100).attr('stroke', '#000').attr('stroke-width', 2.2));

  const [bt, dl, dr] = fBrackets[i];
  g.append('path').attr('d', `M${bl},${y(dl)} V${y(bt)} H${br} V${y(dr)}`).attr('fill', 'none').attr('stroke', '#111').attr('stroke-width', 2.4);
  put(g, px, py, fPvalues[i], { fs: 20.5 });
});
put(gF, 425.5, 1847, 'Cell proportion', { fs: 22.5, rot: -90 });

gF.append('rect').attr('x', 283.3).attr('y', 2000).attr('width', 25.4).attr('height', 27.5).attr('fill', rsColor.band);
gF.append('circle').attr('cx', 296).attr('cy', 2014).attr('r', 4.6).attr('fill', rsColor.fill).attr('stroke', rsColor.stroke);
gF.append('rect').attr('x', 283.3).attr('y', 2039).attr('width', 25.4).attr('height', 27.8).attr('fill', nmColor.band);
gF.append('path').attr('transform', 'translate(296,2054)').attr('d', triPath).attr('fill', nmColor.fill);
put(gF, 322.3, 2013, 'RS/CLL', { fs: 20, anchor: 'start' });
put(gF, 322.3, 2053.6, 'Normal', { fs: 20, anchor: 'start' });
</script>
</body>
</html>
